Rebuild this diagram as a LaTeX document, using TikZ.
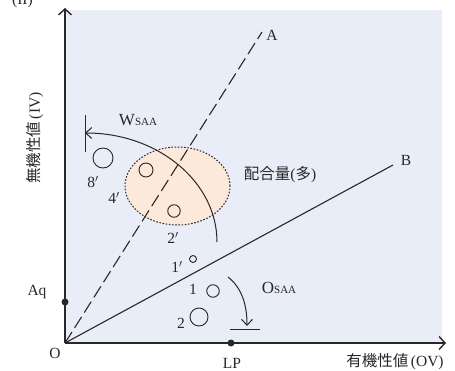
\documentclass[tikz,border=0pt]{standalone}
\usepackage{fontspec}
\setmainfont{Liberation Serif}
\newfontfamily\jpfont{Noto Sans CJK JP}
\usetikzlibrary{arrows.meta,shapes.geometric}
\definecolor{bgblue}{RGB}{233,237,248}
\definecolor{peach}{RGB}{252,233,218}
\definecolor{inkgray}{RGB}{40,40,40}
\newcommand{\subsaa}{{\fontsize{11}{12}\selectfont SAA}}

\begin{document}
\begin{tikzpicture}[
    x=1pt, y=1pt,
    /tikz/font=\fontsize{15.5}{18}\selectfont,
    axisarr/.style={-{Straight Barb[length=6pt,width=13pt]}, line width=1.4pt, draw=inkgray},
    thinarr/.style={-{Straight Barb[length=6pt,width=11pt]}, line width=1pt, draw=inkgray},
    sample/.style={draw=inkgray, circle, line width=0.9pt, inner sep=0pt},
    lbl/.style={inner sep=1pt, text=inkgray},
    dot/.style={circle, fill=inkgray, inner sep=0pt, minimum size=7pt},
  ]
  \useasboundingbox (0,0) rectangle (455,-371);
  % plotting area
  \fill[bgblue] (65,-10) rectangle (442,-343);
  \node[lbl, anchor=south east, inner sep=0pt] (tag) at (33,-8) {(II)};

  % mixing region
  \node[ellipse, draw=inkgray, line width=1pt, dash pattern=on 1.6pt off 1.6pt,
    fill=peach, minimum width=105pt, minimum height=78pt] (mix) at (177.5,-186) {};
  \node[lbl] (mixlbl) at (280,-175) {{\jpfont 配合量}({\jpfont 多})};

  % axes
  \coordinate (O) at (65,-343);
  \coordinate (ytip) at (65,-8);
  \coordinate (xtip) at (446,-343);
  \draw[axisarr] (O) -- (ytip);
  \draw[axisarr] (O) -- (xtip);
  \node[lbl] (olbl) at (55,-353) {O};
  \node[lbl, rotate=90] (ivlbl) at (35,-138) {{\jpfont 無機性値}\,(IV)};
  \node[lbl] (ovlbl) at (395,-362) {{\jpfont 有機性値}\,(OV)};

  % reference lines
  \coordinate (Aend) at (262,-32);
  \coordinate (Bend) at (393,-165);
  \draw[inkgray, line width=1.1pt, dash pattern=on 13pt off 5pt] (O) -- (Aend);
  \draw[inkgray, line width=1.1pt] (O) -- (Bend);
  \node[lbl] (albl) at (272,-35) {A};
  \node[lbl] (blbl) at (406,-160) {B};

  % axis points
  \node[dot] (aq) at (65,-302) {};
  \node[dot] (lp) at (231,-343) {};
  \node[lbl] (aqlbl) at (37,-292) {Aq};
  \node[lbl] (lplbl) at (232,-363) {LP};

  % W_SAA shift
  \coordinate (wstart) at (217,-242);
  \coordinate (wbar1) at (85,-115);
  \coordinate (wbar2) at (85,-152);
  \draw[thinarr] (wstart) arc[start angle=0, end angle=90, x radius=132, y radius=109];
  \draw[inkgray, line width=1pt] (wbar1) -- (wbar2);
  \node[lbl, font=\fontsize{17}{19}\selectfont] (wlbl) at (138,-120) {W\subsaa};

  % O_SAA shift
  \coordinate (ostart) at (228,-277);
  \coordinate (oend) at (247,-326);
  \coordinate (obar1) at (230,-329);
  \coordinate (obar2) at (260,-329);
  \draw[thinarr] (ostart) .. controls (242,-288) and (247,-305) .. (oend);
  \draw[inkgray, line width=1pt] (obar1) -- (obar2);
  \node[lbl, font=\fontsize{17}{19}\selectfont] (olbl2) at (279,-288) {O\subsaa};

  % samples
  \node[sample, minimum size=20pt] (s8p) at (103,-158) {};
  \node[sample, minimum size=14pt] (s4p) at (146,-170) {};
  \node[sample, minimum size=12.5pt] (s2p) at (174,-211) {};
  \node[sample, minimum size=7pt] (s1p) at (193,-259) {};
  \node[sample, minimum size=12.5pt] (s1) at (213,-291) {};
  \node[sample, minimum size=18pt] (s2) at (199,-317) {};
  \node[lbl] (l8p) at (93,-182) {8$'$};
  \node[lbl] (l4p) at (114,-198) {4$'$};
  \node[lbl] (l2p) at (173,-238) {2$'$};
  \node[lbl] (l1p) at (177,-267) {1$'$};
  \node[lbl] (l1) at (193,-289) {1};
  \node[lbl] (l2) at (181,-323) {2};
\end{tikzpicture}
\end{document}
